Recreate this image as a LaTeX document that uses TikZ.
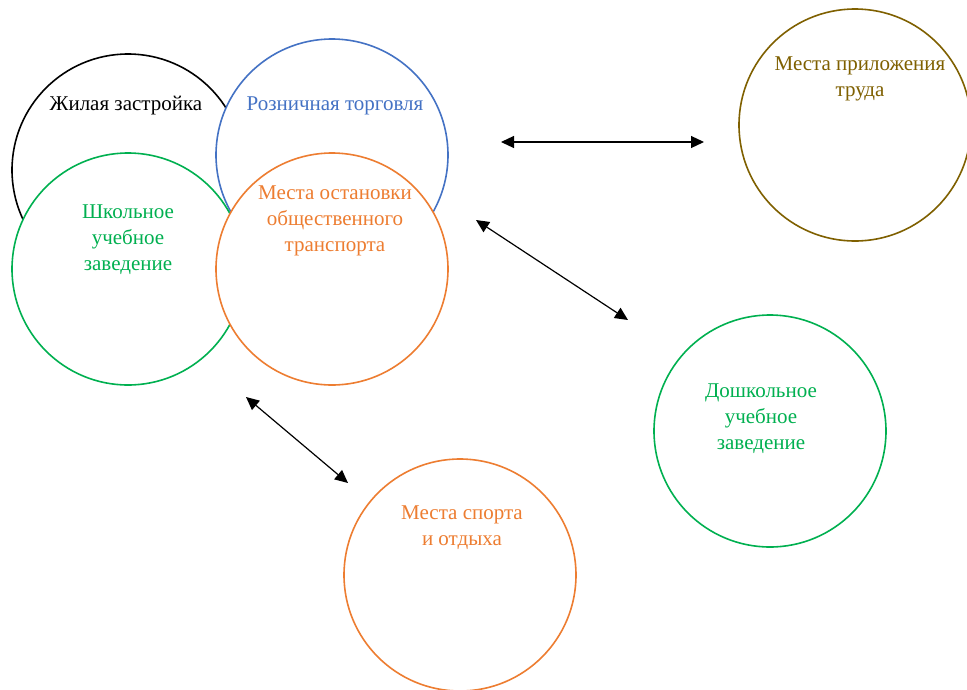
\documentclass[tikz,border=0pt]{standalone}
\usepackage{fontspec}
\setmainfont{Liberation Serif}
\usetikzlibrary{arrows.meta}
\definecolor{cblue}{HTML}{4472C4}
\definecolor{cgreen}{HTML}{00B050}
\definecolor{corange}{HTML}{ED7D31}
\definecolor{cbrown}{HTML}{7F6000}
\tikzset{
  zone/.style={circle,draw=#1,fill=white,line width=1.6pt,minimum size=232pt,inner sep=0pt},
  lbl/.style={text=#1,align=center,inner sep=0pt,font=\fontsize{21}{26}\selectfont},
  link/.style={{Triangle[length=13pt,width=12pt]}-{Triangle[length=13pt,width=12pt]},line width=1.2pt,black}
}
\begin{document}
\begin{tikzpicture}[x=1pt,y=-1pt]
\useasboundingbox (0,0) rectangle (967,689);
\node[zone=black] (zh) at (128,170) {};
\node[zone=cblue] (rt) at (332,155) {};
\node[zone=cgreen] (sh) at (128,269) {};
\node[zone=corange] (ot) at (332,269) {};
\node[zone=cbrown] (pt) at (855,125) {};
\node[zone=cgreen] (dz) at (770,431) {};
\node[zone=corange] (so) at (460,575) {};

\node[lbl=black] (tzh) at (126,106) {Жилая застройка};
\node[lbl=cblue] (trt) at (335,106) {Розничная торговля};
\node[lbl=cgreen] (tsh) at (128,240) {Школьное\\учебное\\заведение};
\node[lbl=corange] (tot) at (335,221) {Места остановки\\общественного\\транспорта};
\node[lbl=cbrown] (tpt) at (860,79) {Места приложения\\труда};
\node[lbl=cgreen] (tdz) at (761,419) {Дошкольное\\учебное\\заведение};
\node[lbl=corange] (tso) at (462,528) {Места спорта\\и отдыха};

\coordinate (a1) at (501,142);
\coordinate (b1) at (704,142);
\coordinate (a2) at (476,220);
\coordinate (b2) at (628,320);
\coordinate (a3) at (246,397);
\coordinate (b3) at (348,483);
\draw[link] (a1) -- (b1);
\draw[link] (a2) -- (b2);
\draw[link] (a3) -- (b3);
\end{tikzpicture}
\end{document}
